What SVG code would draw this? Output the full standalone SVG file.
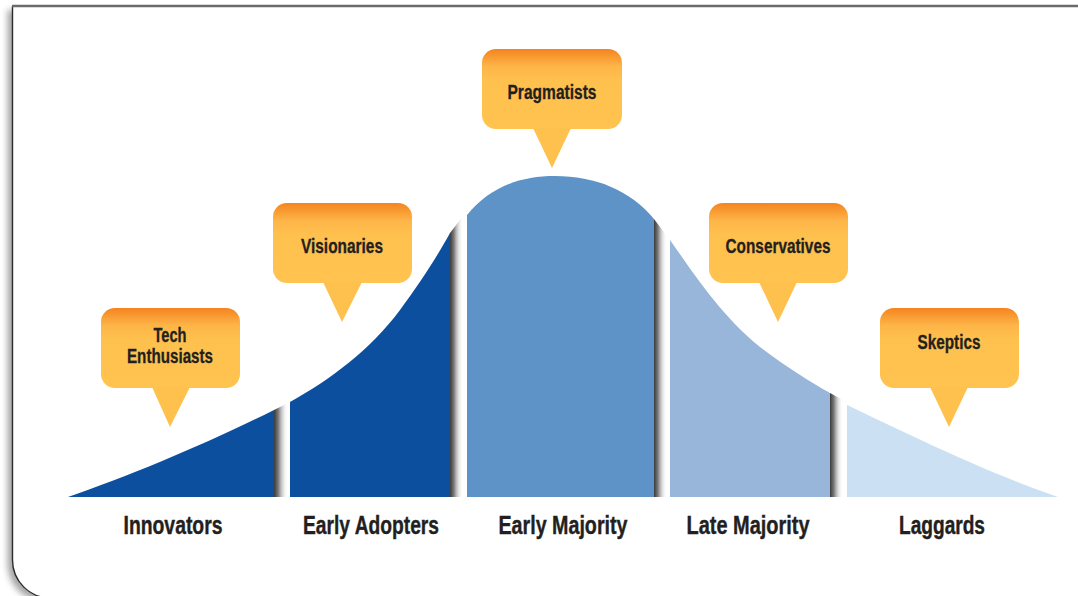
<svg xmlns="http://www.w3.org/2000/svg" width="1078" height="596" viewBox="0 0 1078 596">
<defs>
<style>
.callout-box{fill:url(#calloutGrad);}
.callout-tip{fill:#ffc14d;}
.callout-text{font-family:"Liberation Sans",Arial,sans-serif;font-weight:bold;font-size:19.5px;fill:#231f20;stroke:#231f20;stroke-width:0.3px;text-anchor:middle;}
.label{font-family:"Liberation Sans",Arial,sans-serif;font-weight:bold;font-size:25px;fill:#231f20;stroke:#231f20;stroke-width:0.4px;text-anchor:middle;}
.shadow{fill:url(#stripGrad);}
</style>
<linearGradient id="calloutGrad" x1="0" y1="0" x2="0" y2="1">
<stop offset="0" stop-color="#f5841f"/>
<stop offset="0.22" stop-color="#fdb548"/>
<stop offset="0.4" stop-color="#ffc14e"/>
<stop offset="1" stop-color="#ffc34f"/>
</linearGradient>
<linearGradient id="stripGrad" x1="0" y1="0" x2="1" y2="0">
<stop offset="0" stop-color="#3a3a3a"/>
<stop offset="0.3" stop-color="#7a7a7a"/>
<stop offset="1" stop-color="#ffffff" stop-opacity="0"/>
</linearGradient>
<filter id="frameShadow" x="-5%" y="-5%" width="110%" height="110%">
<feDropShadow dx="-5" dy="4" stdDeviation="3" flood-color="#000" flood-opacity="0.35"/>
</filter>
</defs>
<rect width="1078" height="596" fill="#ffffff"/>
<g id="frame">
<path d="M1090,6 L12.5,6 L12.5,560 A38,38 0 0 0 50.5,598 L1090,598 Z" fill="#ffffff" filter="url(#frameShadow)"/>
<path d="M12.5,6 L12.5,560 A38,38 0 0 0 50.5,598" fill="none" stroke="#2b2b2b" stroke-width="1.4"/>
<line x1="12" y1="6" x2="1078" y2="6" stroke="#6b6b6b" stroke-width="2.4"/>
</g>
<g id="innovators">
<path d="M68,497 C130,476 210,442 274,410 L274,497 Z" fill="#0c4f9f"/>
<path class="shadow" d="M274,410 L288,403 L288,497 L274,497 Z"/>
<text class="label" x="173" y="534" textLength="99" lengthAdjust="spacingAndGlyphs">Innovators</text>
</g>
<g id="early-adopters">
<path d="M290,402 C330,380 370,350 400,310 C420,283 438,255 450,233 L450,497 L290,497 Z" fill="#0c4f9f"/>
<path class="shadow" d="M450,233 L463,216 L463,497 L450,497 Z"/>
<text class="label" x="371" y="534" textLength="136" lengthAdjust="spacingAndGlyphs">Early Adopters</text>
</g>
<g id="early-majority">
<path d="M467,215 C490,187 520,176 555,176 C595,176 630,190 654,219 L654,497 L467,497 Z" fill="#5d93c7"/>
<path class="shadow" d="M654,219 L667,236 L667,497 L654,497 Z"/>
<text class="label" x="563" y="534" textLength="129" lengthAdjust="spacingAndGlyphs">Early Majority</text>
</g>
<g id="late-majority">
<path d="M670,240 C690,268 720,315 760,347 C785,366 810,382 830,393 L830,497 L670,497 Z" fill="#98b5da"/>
<path class="shadow" d="M830,393 L843,400 L843,497 L830,497 Z"/>
<text class="label" x="748" y="534" textLength="123" lengthAdjust="spacingAndGlyphs">Late Majority</text>
</g>
<g id="laggards">
<path d="M847,405 C900,430 980,470 1058,497 L847,497 Z" fill="#cbe1f3"/>
<text class="label" x="942" y="534" textLength="86" lengthAdjust="spacingAndGlyphs">Laggards</text>
</g>
<g id="callout-tech-enthusiasts">
<rect class="callout-box" x="101" y="308" width="139" height="80" rx="14"/>
<polygon class="callout-tip" points="152,387 190,387 170,427"/>
<text class="callout-text" x="170" y="342" textLength="33" lengthAdjust="spacingAndGlyphs">Tech</text>
<text class="callout-text" x="170" y="363" textLength="86" lengthAdjust="spacingAndGlyphs">Enthusiasts</text>
</g>
<g id="callout-visionaries">
<rect class="callout-box" x="273" y="203" width="139" height="80" rx="14"/>
<polygon class="callout-tip" points="323,282 362,282 342,322"/>
<text class="callout-text" x="342" y="253" textLength="82" lengthAdjust="spacingAndGlyphs">Visionaries</text>
</g>
<g id="callout-pragmatists">
<rect class="callout-box" x="482" y="49" width="140" height="80" rx="14"/>
<polygon class="callout-tip" points="533,128 571,128 552,168"/>
<text class="callout-text" x="552" y="99" textLength="89" lengthAdjust="spacingAndGlyphs">Pragmatists</text>
</g>
<g id="callout-conservatives">
<rect class="callout-box" x="709" y="203" width="139" height="80" rx="14"/>
<polygon class="callout-tip" points="759,282 797,282 778,322"/>
<text class="callout-text" x="778" y="253" textLength="105" lengthAdjust="spacingAndGlyphs">Conservatives</text>
</g>
<g id="callout-skeptics">
<rect class="callout-box" x="880" y="308" width="139" height="80" rx="14"/>
<polygon class="callout-tip" points="930,387 968,387 949,427"/>
<text class="callout-text" x="949" y="349" textLength="63" lengthAdjust="spacingAndGlyphs">Skeptics</text>
</g>
</svg>
